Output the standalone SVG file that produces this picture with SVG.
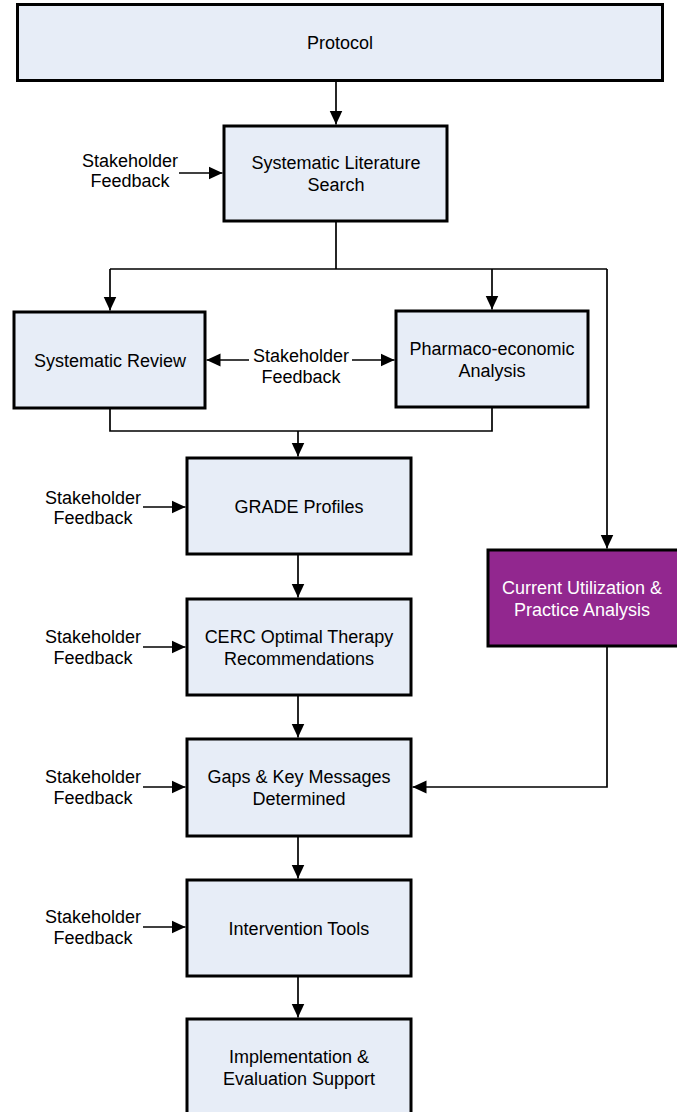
<svg xmlns="http://www.w3.org/2000/svg" width="677" height="1112" viewBox="0 0 677 1112">
<defs>
<style>
.box{fill:#E7EDF7;stroke:#000;stroke-width:3}
.hl{fill:#92278F;stroke:#000;stroke-width:3}
.t{font-family:"Liberation Sans",Arial,sans-serif;font-size:18px;fill:#000;text-anchor:middle}
.w{fill:#fff}
.c{fill:none;stroke:#000;stroke-width:1.7}
.a{marker-end:url(#ah)}
</style>
<marker id="ah" viewBox="0 0 14 14" refX="14" refY="7" markerWidth="14" markerHeight="14" markerUnits="userSpaceOnUse" orient="auto">
<path d="M0,0.5 L14,7 L0,13.5 z" fill="#000"/>
</marker>
</defs>
<rect width="677" height="1112" fill="#fff"/>
<g id="connectors">
<path class="c a" d="M336,81 V124.5"/>
<path class="c a" d="M179,173 H222.5"/>
<path class="c" d="M336,221 V269 M110,269 H607"/>
<path class="c a" d="M110,269 V310.5"/>
<path class="c a" d="M492,269 V309.5"/>
<path class="c a" d="M607,269 V548.5"/>
<path class="c a" d="M249,360 H206.5"/>
<path class="c a" d="M352,360 H394.5"/>
<path class="c" d="M110,408 V431 H492 V407"/>
<path class="c a" d="M298,431 V456.5"/>
<path class="c a" d="M143,507 H185.5"/>
<path class="c a" d="M298,554 V597.5"/>
<path class="c a" d="M143,647 H185.5"/>
<path class="c a" d="M298,695 V737.5"/>
<path class="c a" d="M143,787 H185.5"/>
<path class="c a" d="M607,647 V787 H412.5"/>
<path class="c a" d="M298,836 V878.5"/>
<path class="c a" d="M143,927 H185.5"/>
<path class="c a" d="M298,976 V1017.5"/>
</g>
<g id="protocol"><rect class="box" x="17.5" y="4.5" width="645" height="76"/><text class="t" x="340" y="49">Protocol</text></g>
<g id="sls"><rect class="box" x="224" y="126" width="223" height="95"/><text class="t" x="336" y="168.5">Systematic Literature</text><text class="t" x="336" y="190.5">Search</text></g>
<g id="sf1"><text class="t" x="130" y="167">Stakeholder</text><text class="t" x="130" y="187">Feedback</text></g>
<g id="sr"><rect class="box" x="14" y="312" width="191" height="96"/><text class="t" x="110" y="366.5">Systematic Review</text></g>
<g id="pea"><rect class="box" x="396" y="311" width="192" height="96"/><text class="t" x="492" y="354.5">Pharmaco-economic</text><text class="t" x="492" y="376.5">Analysis</text></g>
<g id="sf2"><text class="t" x="301" y="361.5">Stakeholder</text><text class="t" x="301" y="382.5">Feedback</text></g>
<g id="grade"><rect class="box" x="187" y="458" width="224" height="96"/><text class="t" x="299" y="512.5">GRADE Profiles</text></g>
<g id="sf3"><text class="t" x="93" y="503.5">Stakeholder</text><text class="t" x="93" y="523.5">Feedback</text></g>
<g id="cerc"><rect class="box" x="187" y="599" width="224" height="96"/><text class="t" x="299" y="642.5">CERC Optimal Therapy</text><text class="t" x="299" y="664.5">Recommendations</text></g>
<g id="sf4"><text class="t" x="93" y="642.5">Stakeholder</text><text class="t" x="93" y="663.5">Feedback</text></g>
<g id="cupa"><rect class="hl" x="488" y="550" width="200" height="96"/><text class="t w" x="582" y="593.5">Current Utilization &amp;</text><text class="t w" x="582" y="615.5">Practice Analysis</text></g>
<g id="gaps"><rect class="box" x="187" y="739" width="224" height="97"/><text class="t" x="299" y="783">Gaps &amp; Key Messages</text><text class="t" x="299" y="805">Determined</text></g>
<g id="sf5"><text class="t" x="93" y="782.5">Stakeholder</text><text class="t" x="93" y="803.5">Feedback</text></g>
<g id="tools"><rect class="box" x="187" y="880" width="224" height="96"/><text class="t" x="299" y="934.5">Intervention Tools</text></g>
<g id="sf6"><text class="t" x="93" y="923">Stakeholder</text><text class="t" x="93" y="944">Feedback</text></g>
<g id="impl"><rect class="box" x="187" y="1019" width="224" height="100"/><text class="t" x="299" y="1062.5">Implementation &amp;</text><text class="t" x="299" y="1084.5">Evaluation Support</text></g>
</svg>
